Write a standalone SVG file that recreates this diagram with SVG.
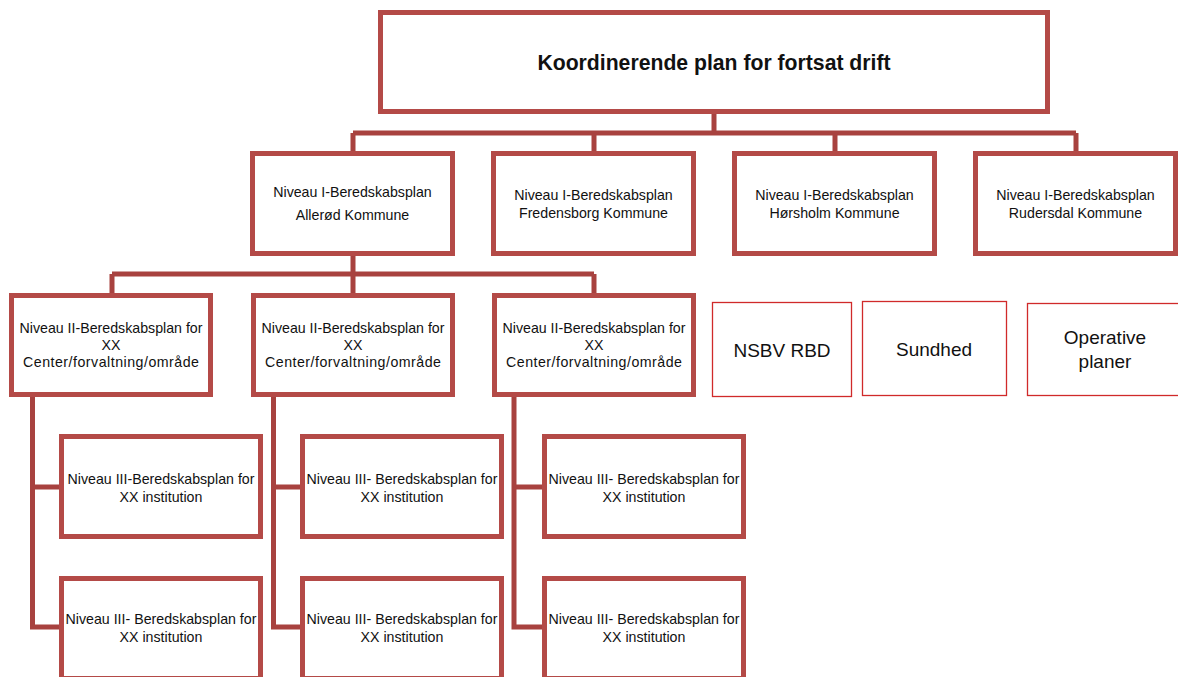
<svg xmlns="http://www.w3.org/2000/svg" width="1178" height="677" viewBox="0 0 1178 677">
<style>
.box{fill:#fff;stroke:#b44a47;stroke-width:5}
.thin{fill:#fff;stroke:#d02a2a;stroke-width:1.3}
.con{fill:none;stroke:#a8423f;stroke-width:5;stroke-linejoin:miter}
text{font-family:"Liberation Sans",Arial,sans-serif;fill:#111;text-anchor:middle}
.t{font-size:14.2px}
.b{font-size:21.2px;font-weight:bold}
.l{font-size:19px}
</style>
<rect width="1178" height="677" fill="#fff"/>
<g id="connectors">
<path class="con" d="M714 114V133M353 133H1076M353 133V151M594 133V151M835 133V151M1076 133V151"/>
<path class="con" d="M353 256V274M112 274H594M112 274V293M353 274V293M594 274V293"/>
<path class="con" d="M32.5 397V627H59M32.5 487H59"/>
<path class="con" d="M273.5 397V627H300M273.5 487H300"/>
<path class="con" d="M514 397V627H542M514 487H542"/>
</g>
<g id="top"><rect class="box" x="380.5" y="12.5" width="667" height="99"/><text class="b" x="714" y="70">Koordinerende plan for fortsat drift</text></g>
<g id="l1-allerod"><rect class="box" x="252.5" y="153.5" width="200" height="100"/><text class="t" x="352.5" y="197">Niveau I-Beredskabsplan</text><text class="t" x="352.5" y="220">Allerød Kommune</text></g>
<g id="l1-fredensborg"><rect class="box" x="493.5" y="153.5" width="200" height="100"/><text class="t" x="593.5" y="200">Niveau I-Beredskabsplan</text><text class="t" x="593.5" y="218">Fredensborg Kommune</text></g>
<g id="l1-horsholm"><rect class="box" x="734.5" y="153.5" width="200" height="100"/><text class="t" x="834.5" y="200">Niveau I-Beredskabsplan</text><text class="t" x="834.5" y="218">Hørsholm Kommune</text></g>
<g id="l1-rudersdal"><rect class="box" x="975.5" y="153.5" width="200" height="100"/><text class="t" x="1075.5" y="200">Niveau I-Beredskabsplan</text><text class="t" x="1075.5" y="218">Rudersdal Kommune</text></g>
<g id="l2-a"><rect class="box" x="11.5" y="295.5" width="199" height="99"/><text class="t" x="111" y="333">Niveau II-Beredskabsplan for</text><text class="t" x="111" y="350">XX</text><text class="t" x="111" y="367" textLength="176">Center/forvaltning/område</text></g>
<g id="l2-b"><rect class="box" x="253.5" y="295.5" width="199" height="99"/><text class="t" x="353" y="333">Niveau II-Beredskabsplan for</text><text class="t" x="353" y="350">XX</text><text class="t" x="353" y="367" textLength="176">Center/forvaltning/område</text></g>
<g id="l2-c"><rect class="box" x="494.5" y="295.5" width="199" height="99"/><text class="t" x="594" y="333">Niveau II-Beredskabsplan for</text><text class="t" x="594" y="350">XX</text><text class="t" x="594" y="367" textLength="176">Center/forvaltning/område</text></g>
<g id="nsbv"><rect class="thin" x="712.5" y="302.5" width="139" height="94"/><text class="l" x="782" y="357">NSBV RBD</text></g>
<g id="sundhed"><rect class="thin" x="862.5" y="301.5" width="144" height="94"/><text class="l" x="934" y="356">Sundhed</text></g>
<g id="operative"><rect class="thin" x="1027.5" y="303.5" width="155" height="92"/><text class="l" x="1105" y="344">Operative</text><text class="l" x="1105" y="368">planer</text></g>
<g id="l3-a1"><rect class="box" x="61.5" y="436.5" width="199" height="100"/><text class="t" x="161" y="484">Niveau III-Beredskabsplan for</text><text class="t" x="161" y="502">XX institution</text></g>
<g id="l3-a2"><rect class="box" x="61.5" y="578.5" width="199" height="100"/><text class="t" x="161" y="624">Niveau III- Beredskabsplan for</text><text class="t" x="161" y="642">XX institution</text></g>
<g id="l3-b1"><rect class="box" x="302.5" y="436.5" width="199" height="100"/><text class="t" x="402" y="484">Niveau III- Beredskabsplan for</text><text class="t" x="402" y="502">XX institution</text></g>
<g id="l3-b2"><rect class="box" x="302.5" y="578.5" width="199" height="100"/><text class="t" x="402" y="624">Niveau III- Beredskabsplan for</text><text class="t" x="402" y="642">XX institution</text></g>
<g id="l3-c1"><rect class="box" x="544.5" y="436.5" width="199" height="100"/><text class="t" x="644" y="484">Niveau III- Beredskabsplan for</text><text class="t" x="644" y="502">XX institution</text></g>
<g id="l3-c2"><rect class="box" x="544.5" y="578.5" width="199" height="100"/><text class="t" x="644" y="624">Niveau III- Beredskabsplan for</text><text class="t" x="644" y="642">XX institution</text></g>
</svg>
